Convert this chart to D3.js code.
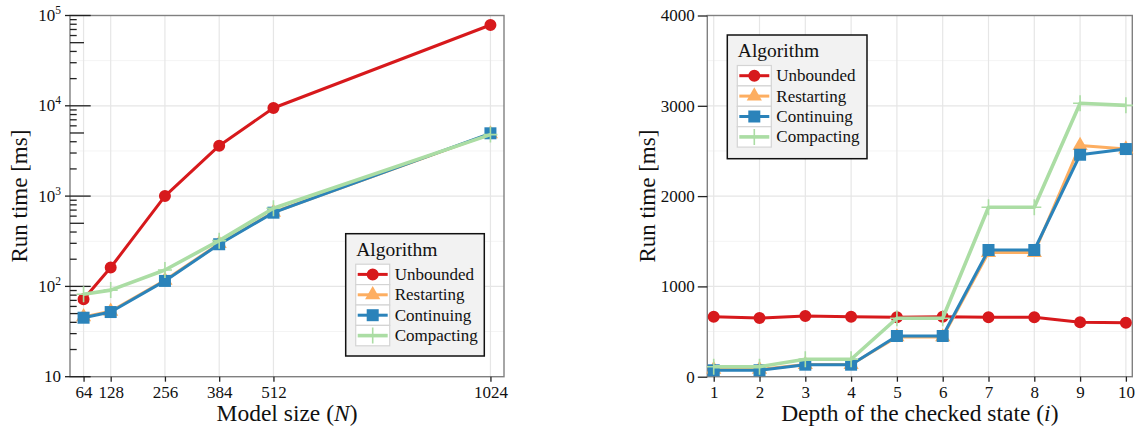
<!DOCTYPE html>
<html>
<head>
<meta charset="utf-8">
<script src="https://cdn.jsdelivr.net/npm/d3@7"></script>
<style>
  body { margin: 0; background: #fff; }
  svg { display: block; font-family: "Liberation Serif", "Times New Roman", "DejaVu Serif", serif; }
</style>
</head>
<body>
<svg id="chart" width="1140" height="431"></svg>
<script>
// data
const algorithms = ['Unbounded', 'Restarting', 'Continuing', 'Compacting'];
const colors = ['#d7191c', '#fdae61', '#2b83ba', '#abdda4'];

const sizes = [64, 128, 256, 384, 512, 1024];
const sizeUnbounded = [72, 162, 1000, 3620, 9450, 78500];
const sizeRestarting = [46, 53, 117, 297, 662, 4880];
const sizeContinuing = [45, 52, 115, 293, 655, 4960];
const sizeCompacting = [82, 91, 152, 321, 733, 4800];

const depths = [1, 2, 3, 4, 5, 6, 7, 8, 9, 10];
const depthUnbounded = [664, 650, 672, 664, 658, 664, 658, 658, 602, 598];
const depthRestarting = [80, 80, 135, 135, 440, 440, 1375, 1375, 2560, 2521];
const depthContinuing = [71, 71, 133, 133, 451, 451, 1403, 1403, 2458, 2521];
const depthCompacting = [111, 111, 193, 193, 647, 647, 1876, 1876, 3028, 3005];

const sizeTicks = [64, 128, 256, 384, 512, 1024];
const logTicks = [10, 100, 1000, 10000, 100000];
const depthTicks = [1, 2, 3, 4, 5, 6, 7, 8, 9, 10];
const linTicks = [0, 1000, 2000, 3000, 4000];

const FONT = '"Liberation Serif", "Times New Roman", "DejaVu Serif", serif';
const svg = d3.select('#chart');

function markerPath(kind) {
  if (kind === 'Unbounded') return d3.symbol(d3.symbolCircle, 113)();
  if (kind === 'Restarting') return d3.symbol(d3.symbolTriangle, 100)();
  if (kind === 'Continuing') return 'M-6,-6H6V6H-6Z';
  return 'M-7,0H7M0,-8V8';
}

function drawMarker(g, kind, i) {
  const p = g.append('path').attr('d', markerPath(kind));
  if (kind === 'Compacting') {
    p.attr('fill', 'none').attr('stroke', colors[i]).attr('stroke-width', 1.6);
  } else {
    p.attr('fill', colors[i]);
  }
  return p;
}

function drawPanel(cfg) {
  const g = svg.append('g');
  const { x, y } = cfg;
  const [x0, x1] = x.range();
  const [y0, y1] = y.range();

  // grid
  const grid = g.append('g');
  cfg.yMinorGrid.forEach(v => {
    grid.append('line').attr('x1', x0).attr('x2', x1).attr('y1', y(v)).attr('y2', y(v))
      .attr('stroke', '#f4f4f4').attr('stroke-width', 1);
  });
  cfg.yGrid.forEach(v => {
    grid.append('line').attr('x1', x0).attr('x2', x1).attr('y1', y(v)).attr('y2', y(v))
      .attr('stroke', '#e6e6e6').attr('stroke-width', 1.2);
  });
  cfg.xTicks.forEach(v => {
    grid.append('line').attr('x1', x(v)).attr('x2', x(v)).attr('y1', y0).attr('y2', y1)
      .attr('stroke', '#e6e6e6').attr('stroke-width', 1.2);
  });

  // frame
  g.append('rect')
    .attr('x', x0).attr('y', y1).attr('width', x1 - x0).attr('height', y0 - y1)
    .attr('fill', 'none').attr('stroke', '#808080').attr('stroke-width', 1.4);

  // x axis
  const xAxis = g.append('g').attr('transform', `translate(0,${y0})`)
    .call(d3.axisBottom(x).tickValues(cfg.xTicks).tickFormat(d3.format('d'))
      .tickSizeOuter(0).tickSizeInner(5).tickPadding(4))
    .attr('font-family', FONT);
  xAxis.select('.domain').remove();
  xAxis.selectAll('.tick line').attr('stroke', '#222').attr('stroke-width', 1.3);
  xAxis.selectAll('.tick text').attr('font-size', 17).attr('fill', '#111');

  // y axis
  cfg.drawYAxis(g);

  // titles
  const xt = g.append('text')
    .attr('x', (x0 + x1) / 2).attr('y', 421)
    .attr('text-anchor', 'middle').attr('font-size', 23.5).attr('fill', '#111');
  xt.append('tspan').text(cfg.xTitle[0]);
  xt.append('tspan').attr('font-style', 'italic').text(cfg.xTitle[1]);
  xt.append('tspan').text(cfg.xTitle[2]);

  g.append('text')
    .attr('transform', `translate(${cfg.yTitleX},${(y0 + y1) / 2}) rotate(-90)`)
    .attr('text-anchor', 'middle').attr('font-size', 23).attr('fill', '#111')
    .text('Run time [ms]');

  // series
  const line = d3.line().x(d => x(d[0])).y(d => y(d[1]));
  cfg.series.forEach((vals, i) => {
    const pts = cfg.xs.map((v, j) => [v, vals[j]]);
    const s = g.append('g');
    s.append('path').datum(pts).attr('d', line)
      .attr('fill', 'none').attr('stroke', colors[i])
      .attr('stroke-width', i === 3 ? 3.6 : 3)
      .attr('stroke-linejoin', 'round');
    pts.forEach(p => {
      const m = s.append('g').attr('transform', `translate(${x(p[0])},${y(p[1])})`);
      drawMarker(m, algorithms[i], i);
    });
  });

  // legend
  const L = cfg.legend;
  const lg = g.append('g').attr('transform', `translate(${L.x},${L.y})`);
  lg.append('rect').attr('width', L.w).attr('height', L.h)
    .attr('fill', '#f2f2f2').attr('stroke', '#111').attr('stroke-width', 1.5);
  lg.append('text').attr('x', 10.5).attr('y', 22).attr('font-size', 19.5).attr('fill', '#111').text('Algorithm');
  const rowH = 20.4;
  algorithms.forEach((name, i) => {
    const ry = 30.5 + i * rowH;
    lg.append('rect').attr('x', 10).attr('y', ry).attr('width', 34).attr('height', rowH)
      .attr('fill', '#fff').attr('stroke', '#d4d4d4').attr('stroke-width', 1.2);
    lg.append('line').attr('x1', 12).attr('x2', 42).attr('y1', ry + rowH / 2).attr('y2', ry + rowH / 2)
      .attr('stroke', colors[i]).attr('stroke-width', i === 3 ? 3.6 : 3);
    const m = lg.append('g').attr('transform', `translate(27,${ry + rowH / 2})`);
    drawMarker(m, name, i);
    lg.append('text').attr('x', 49).attr('y', ry + rowH / 2 + 5.5)
      .attr('font-size', 17).attr('fill', '#111').text(name);
  });
}

// left panel: log scale
const xLeft = d3.scaleLinear().domain([32, 1056]).range([70, 504]);
const yLeft = d3.scaleLog().domain([10, 100000]).range([376.7, 15.5]);

drawPanel({
  x: xLeft, y: yLeft, xs: sizes, xTicks: sizeTicks,
  series: [sizeUnbounded, sizeRestarting, sizeContinuing, sizeCompacting],
  yGrid: logTicks.slice(1, -1),
  yMinorGrid: [10 ** 1.5, 10 ** 2.5, 10 ** 3.5, 10 ** 4.5],
  xTitle: ['Model size (', 'N', ')'],
  yTitleX: 27,
  legend: { x: 345.7, y: 233.7, w: 138.6, h: 122.3 },
  drawYAxis: g => {
    const ax = g.append('g');
    logTicks.forEach((v, k) => {
      if (k < logTicks.length - 1) {
        for (let m = 2; m <= 9; m++) {
          const yy = yLeft(v * m);
          ax.append('line').attr('x1', 70).attr('x2', m === 5 ? 84 : 76.7)
            .attr('y1', yy).attr('y2', yy).attr('stroke', '#222').attr('stroke-width', 1.3);
        }
      }
      const yy = yLeft(v);
      ax.append('line').attr('x1', 65).attr('x2', 90.7).attr('y1', yy).attr('y2', yy)
        .attr('stroke', '#222').attr('stroke-width', 1.3);
      const exp = Math.round(Math.log10(v));
      const t = ax.append('text').attr('x', 61).attr('y', yy + 5.5)
        .attr('text-anchor', 'end').attr('font-size', 17).attr('fill', '#111');
      t.append('tspan').text('10');
      if (exp > 1) t.append('tspan').attr('dy', -7).attr('font-size', 11.5).text(exp);
    });
  }
});

// right panel: linear
const xRight = d3.scaleLinear().domain([0.86, 10.14]).range([707.3, 1132.3]);
const yRight = d3.scaleLinear().domain([0, 4000]).range([376.7, 15.5]);

drawPanel({
  x: xRight, y: yRight, xs: depths, xTicks: depthTicks,
  series: [depthUnbounded, depthRestarting, depthContinuing, depthCompacting],
  yGrid: linTicks.slice(1, -1),
  yMinorGrid: [500, 1500, 2500, 3500],
  xTitle: ['Depth of the checked state (', 'i', ')'],
  yTitleX: 655,
  legend: { x: 727.3, y: 35, w: 139.7, h: 123.7 },
  drawYAxis: g => {
    const ax = g.append('g').attr('transform', 'translate(707.3,0)')
      .call(d3.axisLeft(yRight).tickValues(linTicks).tickFormat(d3.format('d'))
        .tickSizeOuter(0).tickSize(9.5).tickPadding(3))
      .attr('font-family', FONT);
    ax.select('.domain').remove();
    ax.selectAll('.tick line').attr('stroke', '#222').attr('stroke-width', 1.3);
    ax.selectAll('.tick text').attr('font-size', 17).attr('fill', '#111');
  }
});
</script>
</body>
</html>
